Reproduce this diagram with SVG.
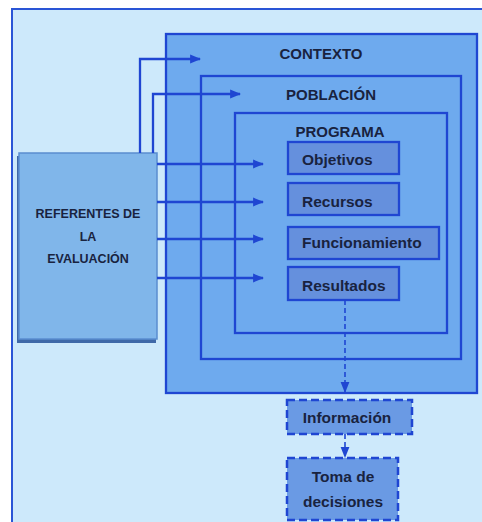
<svg xmlns="http://www.w3.org/2000/svg" width="482" height="522" viewBox="0 0 482 522">
<defs>
<style>
.t{font-family:"Liberation Sans",Arial,sans-serif;font-weight:bold;fill:#19233f}
.box{stroke:#1f46d2;stroke-width:2.3}
.c{fill:none;stroke:#1f46d2;stroke-width:2.3}
.d{fill:none;stroke:#1f46d2;stroke-width:1.6;stroke-dasharray:5 3}
.db{fill:#6a9ae4;stroke:#1f46d2;stroke-width:2.5;stroke-dasharray:8 4}
</style>
<marker id="ah" viewBox="0 0 10 10" refX="9" refY="5" markerWidth="11" markerHeight="11" markerUnits="userSpaceOnUse" orient="auto">
<path d="M0,1 L10,5 L0,9 Z" fill="#1f46d2"/>
</marker>
</defs>
<rect x="0" y="0" width="482" height="522" fill="#ffffff"/>
<rect id="frame" x="12" y="9" width="480" height="530" fill="#cde9fb" stroke="#2a55d6" stroke-width="2"/>
<g id="contexto"><rect class="box" x="166" y="34" width="311" height="359" fill="#6eaaee"/><text class="t" x="321" y="59" font-size="15" text-anchor="middle">CONTEXTO</text></g>
<g id="poblacion"><rect class="box" x="201" y="76" width="260" height="283" fill="#6eaaee"/><text class="t" x="331" y="100" font-size="15" text-anchor="middle">POBLACIÓN</text></g>
<g id="programa"><rect class="box" x="235" y="113" width="212" height="220" fill="#6eaaee"/><text class="t" x="340" y="137" font-size="15" text-anchor="middle">PROGRAMA</text></g>
<g id="objetivos"><rect class="box" x="288" y="142" width="111" height="32" fill="#6590dd"/><text class="t" x="302" y="165" font-size="15.5">Objetivos</text></g>
<g id="recursos"><rect class="box" x="288" y="183" width="111" height="32" fill="#6590dd"/><text class="t" x="302" y="207" font-size="15.5">Recursos</text></g>
<g id="funcionamiento"><rect class="box" x="288" y="227" width="151" height="32" fill="#6590dd"/><text class="t" x="302" y="248" font-size="15.5">Funcionamiento</text></g>
<g id="resultados"><rect class="box" x="288" y="267" width="111" height="33" fill="#6590dd"/><text class="t" x="302" y="291" font-size="15.5">Resultados</text></g>
<g id="referentes">
<rect x="17" y="156" width="139" height="187" fill="#3f69a8"/>
<rect x="19" y="153" width="138" height="186" fill="#80b6ea" stroke="#5a8dd0" stroke-width="1.5"/>
<text class="t" font-size="12.5" text-anchor="middle"><tspan x="88" y="218">REFERENTES DE</tspan><tspan x="88" y="241">LA</tspan><tspan x="88" y="263">EVALUACIÓN</tspan></text>
</g>
<g id="informacion"><rect class="db" x="287" y="400" width="125" height="34"/><text class="t" x="347" y="423" font-size="15.5" text-anchor="middle">Información</text></g>
<g id="toma"><rect class="db" x="287" y="458" width="111" height="62"/><text class="t" font-size="15.5" text-anchor="middle"><tspan x="343" y="482">Toma de</tspan><tspan x="343" y="507">decisiones</tspan></text></g>
<g id="connectors">
<path class="c" d="M140,153 V59 H200" marker-end="url(#ah)"/>
<path class="c" d="M153,153 V94 H240" marker-end="url(#ah)"/>
<path class="c" d="M157,164 H263" marker-end="url(#ah)"/>
<path class="c" d="M157,202 H263" marker-end="url(#ah)"/>
<path class="c" d="M157,239 H263" marker-end="url(#ah)"/>
<path class="c" d="M157,278 H263" marker-end="url(#ah)"/>
<path class="d" d="M345,300 V392" marker-end="url(#ah)"/>
<path class="d" d="M345,434 V457" marker-end="url(#ah)"/>
</g>
</svg>
